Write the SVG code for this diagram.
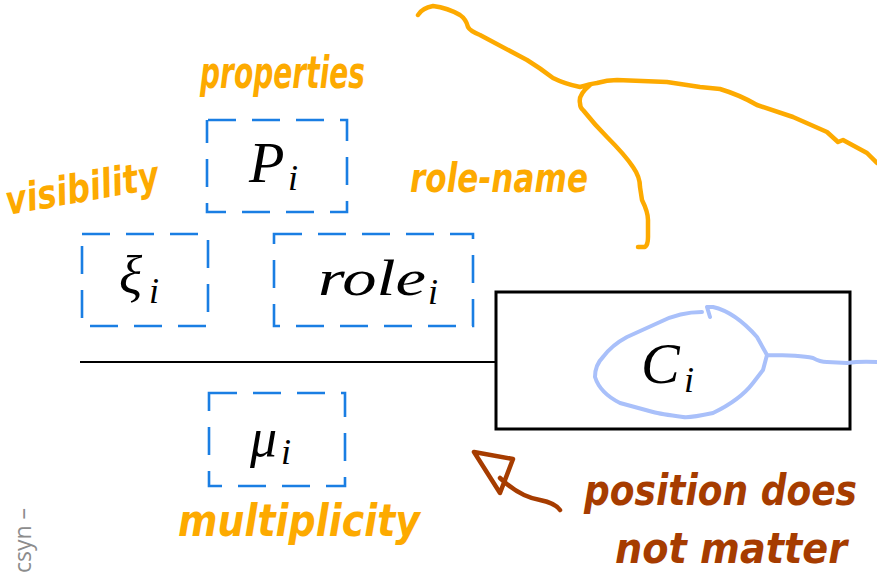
<svg xmlns="http://www.w3.org/2000/svg" width="877" height="580" viewBox="0 0 877 580">
<style>
.dash{fill:none;stroke:#1a7ee3;stroke-width:2.6;stroke-dasharray:28 16}
.math{font-family:"Liberation Serif","DejaVu Serif",serif;font-style:italic;fill:#000}
.sub{font-family:"Liberation Serif","DejaVu Serif",serif;font-style:italic;fill:#000;font-size:36px}
.hand{font-family:"DejaVu Sans","Liberation Sans",sans-serif;font-weight:bold;font-style:italic}
.or{fill:#fdaa00}
.br{fill:#a63c00}
.ink{fill:none;stroke-linecap:round;stroke-linejoin:round}
</style>
<rect width="877" height="580" fill="#fff"/>
<g id="connectors">
<line x1="80" y1="362" x2="496" y2="362" stroke="#000" stroke-width="2.2"/>
</g>
<g id="node-P">
<rect class="dash" x="207" y="120" width="140" height="92" stroke-dashoffset="-1"/>
<text class="math" x="249" y="182" font-size="58">P</text>
<text class="sub" x="288" y="190">i</text>
</g>
<g id="node-xi">
<rect class="dash" x="82" y="234" width="126" height="92"/>
<text class="math" x="119" y="294" font-size="54">ξ</text>
<text class="sub" x="149" y="303">i</text>
</g>
<g id="node-role">
<rect class="dash" x="274" y="234" width="199" height="92"/>
<text class="math" x="318" y="295" font-size="50" textLength="108" lengthAdjust="spacingAndGlyphs">role</text>
<text class="sub" x="428" y="304">i</text>
</g>
<g id="node-mu">
<rect class="dash" x="209" y="393" width="136" height="93"/>
<text class="math" x="250" y="456" font-size="54">μ</text>
<text class="sub" x="281" y="464">i</text>
</g>
<g id="node-C">
<rect x="496" y="292" width="354" height="137" fill="none" stroke="#000" stroke-width="3"/>
<text class="math" x="641" y="383" font-size="58">C</text>
<text class="sub" x="684" y="392">i</text>
</g>
<g id="annotations">
<path class="ink" stroke="#a9c0fa" stroke-width="4" d="M710,317 L707,307 L713,307 Q735,312 757,337 L767,355 L763,370 L753,383 Q740,400 713,413 Q690,418 683,417 Q660,414 653,412 L620,403 Q600,393 595,377 Q595,365 603,357 Q612,345 627,337 L660,322 Q680,312 702,312 M767,355 Q800,355 813,358 Q820,362 827,362 L847,363 Q860,361 877,362"/>
<path class="ink" stroke="#fdaa00" stroke-width="4.5" d="M418,15 Q422,8 433,6 Q448,8 460,15 Q466,19 468,27 Q470,31 480,35 L527,60 Q540,68 553,78 Q565,84 580,87 Q590,84 597,83 Q607,80 617,80 L667,82 L700,87 L720,89 Q740,95 757,105 L793,117 L827,132 L838,142 L843,140 L867,153 L877,163 M590,85 Q578,95 580,103 Q580,108 583,110 Q595,125 607,137 Q625,155 633,167 Q640,177 640,187 L642,200 Q648,212 648,220 L648,237 Q648,245 645,247 L638,247"/>
<path class="ink" stroke="#a63c00" stroke-width="4.5" d="M474,452 L513,459 L500,493 Z M500,478 Q520,497 540,500 Q555,503 560,510"/>
<text class="hand or" x="200" y="88" font-size="44" textLength="165" lengthAdjust="spacingAndGlyphs">properties</text>
<text class="hand or" x="8" y="215" font-size="40" textLength="155" lengthAdjust="spacingAndGlyphs" transform="rotate(-10 8 215)">visibility</text>
<text class="hand or" x="410" y="192" font-size="40" textLength="178" lengthAdjust="spacingAndGlyphs">role-name</text>
<text class="hand or" x="178" y="536" font-size="44" textLength="242" lengthAdjust="spacingAndGlyphs">multiplicity</text>
<text class="hand br" x="0" y="0" font-size="36" transform="translate(584,505) scale(1,1.2)">position does</text>
<text class="hand br" x="615" y="563" font-size="42" textLength="232" lengthAdjust="spacingAndGlyphs">not matter</text>
<text x="31" y="508" text-anchor="end" font-family="'Open Sans','Noto Sans',sans-serif" font-size="23" fill="#8c8c8c" transform="rotate(-90 31 508)">csyn –</text>
</g>
</svg>
